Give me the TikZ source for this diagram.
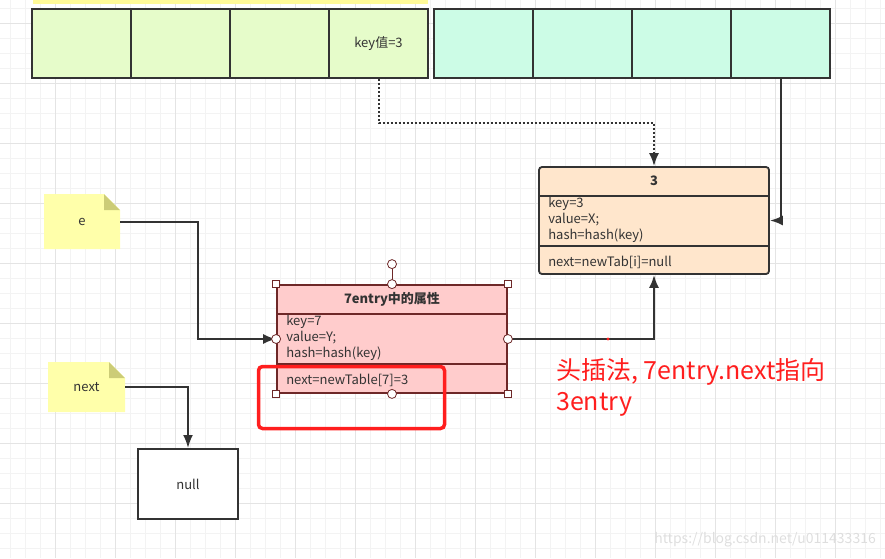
\documentclass[tikz,border=0pt]{standalone}
\usepackage{fontspec}
\setmainfont{Noto Sans CJK SC}
\definecolor{gridminor}{RGB}{243,243,243}
\definecolor{gridmajor}{RGB}{228,228,228}
\definecolor{arrleft}{RGB}{230,252,202}
\definecolor{arrright}{RGB}{204,252,230}
\definecolor{peach}{RGB}{255,230,204}
\definecolor{pinkbox}{RGB}{255,204,204}
\definecolor{noteyellow}{RGB}{255,255,170}
\definecolor{notefold}{RGB}{204,204,119}
\definecolor{darkline}{RGB}{51,51,51}
\definecolor{boxred}{RGB}{110,40,40}
\definecolor{hlred}{RGB}{255,30,30}
\usetikzlibrary{arrows.meta, positioning, calc}

\begin{document}
\begin{tikzpicture}[x=1pt, y=-1pt, font=\fontsize{13}{15}\selectfont, text=darkline]
      \tikzstyle{cell} = [rectangle, draw=darkline, line width=2.2pt, minimum width=99pt, minimum height=69pt, inner sep=0pt]
      \tikzstyle{entry} = [rectangle, line width=1.8pt, minimum width=230pt, inner sep=0pt]
      \tikzstyle{fields} = [align=left, anchor=west, inner sep=0pt, font=\fontsize{13}{16}\selectfont]
      \tikzstyle{handle} = [rectangle, draw=boxred, fill=white, minimum size=7pt, inner sep=0pt, line width=0.8pt]
      \tikzstyle{knob} = [circle, draw=boxred, fill=white, minimum size=9pt, inner sep=0pt, line width=0.8pt]
      \tikzstyle{note} = [rectangle, inner sep=0pt, path picture={
          \fill[noteyellow] (path picture bounding box.south west) -- (path picture bounding box.north west)
            -- ([xshift=-16pt]path picture bounding box.north east) -- ([yshift=-16pt]path picture bounding box.north east)
            -- (path picture bounding box.south east) -- cycle;
          \fill[notefold] ([xshift=-16pt]path picture bounding box.north east) -- ([xshift=-16pt, yshift=-16pt]path picture bounding box.north east)
            -- ([yshift=-16pt]path picture bounding box.north east) -- cycle;}]
      \tikzstyle{line} = [draw=darkline, line width=2pt, -{Latex[length=13pt, width=10pt]}]

      \useasboundingbox (0,0) rectangle (885,558);
      % grid
      \foreach \x in {10,25,...,880} \draw[gridminor, line width=1pt] (\x,0) -- (\x,558);
      \foreach \y in {8,23,...,553} \draw[gridminor, line width=1pt] (0,\y) -- (885,\y);
      \foreach \x in {55,115,...,835} \draw[gridmajor, line width=1pt] (\x,0) -- (\x,558);
      \foreach \y in {23,83,...,543} \draw[gridmajor, line width=1pt] (0,\y) -- (885,\y);
      \fill[yellow!40] (33,0) rectangle (428,4);

      % table
      \foreach \i in {0,...,3} \node [cell, fill=arrleft] (l\i) at (81.5+99*\i,43.5) {};
      \foreach \i in {0,...,3} \node [cell, fill=arrright] (r\i) at (483.5+99*\i,43.5) {};
      \node (key3) at (l3.center) {key值=3};

      % entry 3
      \node [entry, draw=darkline, fill=peach, rounded corners=3pt, minimum height=107pt] (b3) at (654,220.5) {};
      \draw [darkline, line width=1.8pt] ($(b3.north west)+(0,30)$) -- ($(b3.north east)+(0,30)$);
      \draw [darkline, line width=1.8pt] ($(b3.north west)+(0,80)$) -- ($(b3.north east)+(0,80)$);
      \node [font=\fontsize{13}{15}\selectfont\bfseries] (b3title) at ($(b3.north)+(0,15)$) {3};
      \node [fields] (b3vals) at ($(b3.north west)+(10,54)$) {key=3\\value=X;\\hash=hash(key)};
      \node [fields] (b3next) at ($(b3.north west)+(10,96)$) {next=newTab[i]=null};

      % entry 7
      \node [entry, draw=boxred, fill=pinkbox, minimum height=108pt] (b7) at (392,339) {};
      \draw [boxred, line width=1.8pt] ($(b7.north west)+(0,30)$) -- ($(b7.north east)+(0,30)$);
      \draw [boxred, line width=1.8pt] ($(b7.north west)+(0,80)$) -- ($(b7.north east)+(0,80)$);
      \node [font=\fontsize{13}{15}\selectfont\bfseries] (b7title) at ($(b7.north)+(0,15)$) {7entry中的属性};
      \node [fields] (b7vals) at ($(b7.north west)+(10,54)$) {key=7\\value=Y;\\hash=hash(key)};
      \node [fields] (b7next) at ($(b7.north west)+(10,96)$) {next=newTable[7]=3};

      % notes
      \node [note, minimum width=76pt, minimum height=55pt] (e) at (82,221.5) {e};
      \node [note, minimum width=77pt, minimum height=50pt] (next) at (86.5,387) {next};
      \node [rectangle, draw=darkline, fill=white, line width=2pt, minimum width=100pt, minimum height=70pt] (null) at (188,484) {null};

      \draw [line, dotted] (l3.south) -- ++(0,44) -| (b3.north);
      \path [line] (r3.south) |- (b3.east);
      \path [line] (b7.east) -| (b3.south);
      \path [line] (e.east) -- ++(78,0) |- (b7.west);
      \path [line] (next.east) -| (null.north);
      \fill [hlred] (608,339) circle (1.6pt);

      % selection handles
      \node [knob] (rot) at ($(b7.north)+(0,-20)$) {};
      \draw [boxred, line width=0.8pt] (rot) -- (b7.north);
      \foreach \a/\n in {north west/1, north east/2, south west/3, south east/4} \node [handle] (h\n) at (b7.\a) {};
      \foreach \a/\n in {north/1, south/2, west/3, east/4} \node [knob] (k\n) at (b7.\a) {};

      \node [draw=hlred, line width=3.5pt, rounded corners=4pt, minimum width=186pt, minimum height=62pt] (hl) at (351.5,397.5) {};
      \node [text=hlred, font=\fontsize{25}{31}\selectfont, align=left, anchor=north west, inner sep=0pt] (remark) at (556,358) {头插法, 7entry.next指向\\3entry};
      \node [text=black!13, font=\fontsize{14}{16}\selectfont, anchor=east, inner sep=0pt] (mark) at (876,540) {https://blog.csdn.net/u011433316};
    \end{tikzpicture}
\end{document}
